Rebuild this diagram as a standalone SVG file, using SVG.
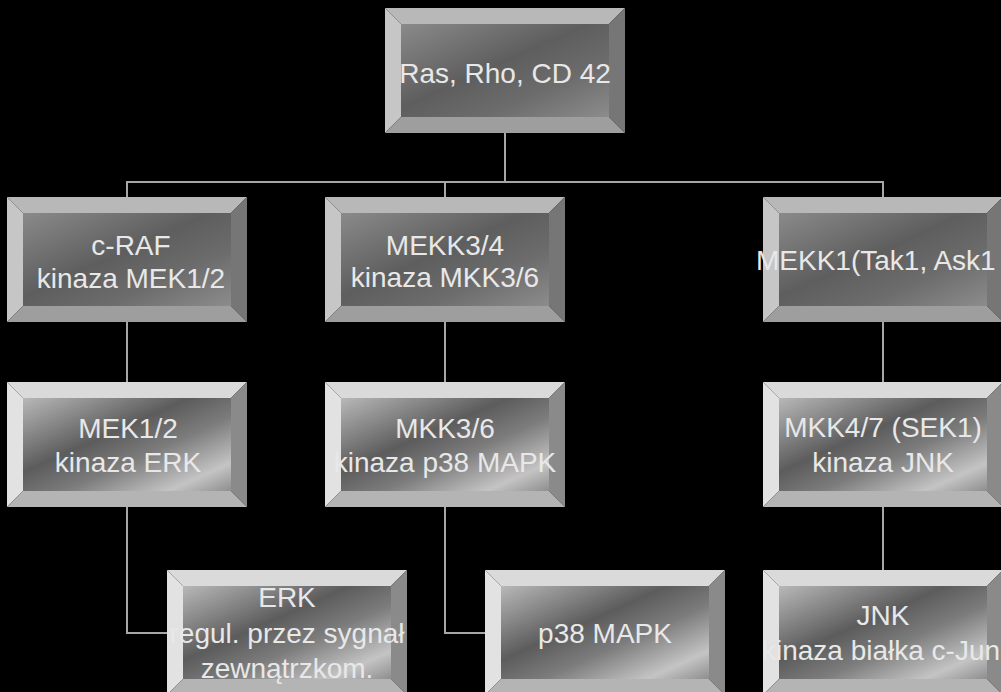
<svg xmlns="http://www.w3.org/2000/svg" xmlns:xlink="http://www.w3.org/1999/xlink" width="1001" height="692" viewBox="0 0 1001 692">
<style>
.t{font-family:"Liberation Sans",Arial,sans-serif;font-size:28px;fill:#e8e8e8;text-anchor:middle}
.c{stroke:#a6a6a6;stroke-width:2;fill:none}
</style>
<defs>
<linearGradient id="faceA" x1="0" y1="0" x2="1" y2="1">
<stop offset="0" stop-color="#8a8a8a"/>
<stop offset="0.45" stop-color="#5e5e5e"/>
<stop offset="0.7" stop-color="#6c6c6c"/>
<stop offset="1" stop-color="#8c8c8c"/>
</linearGradient>
<linearGradient id="faceB" x1="0" y1="0" x2="1" y2="1">
<stop offset="0" stop-color="#b8b8b8"/>
<stop offset="0.4" stop-color="#5c5c5c"/>
<stop offset="0.6" stop-color="#7c7c7c"/>
<stop offset="0.85" stop-color="#c4c4c4"/>
<stop offset="1" stop-color="#8e8e8e"/>
</linearGradient>
<g id="bevA">
<rect x="16" y="16" width="208" height="93" fill="url(#faceA)"/>
<polygon points="0,0 240,0 224,16 16,16" fill="#b8b8b8"/>
<polygon points="0,0 16,16 16,109 0,125" fill="#c6c6c6"/>
<polygon points="240,0 240,125 224,109 224,16" fill="#767676"/>
<polygon points="0,125 16,109 224,109 240,125" fill="#9e9e9e"/>
</g>
<g id="bevB">
<rect x="16" y="16" width="208" height="93" fill="url(#faceB)"/>
<polygon points="0,0 240,0 224,16 16,16" fill="#dadada"/>
<polygon points="0,0 16,16 16,109 0,125" fill="#e2e2e2"/>
<polygon points="240,0 240,125 224,109 224,16" fill="#8a8a8a"/>
<polygon points="0,125 16,109 224,109 240,125" fill="#b4b4b4"/>
</g>
</defs>
<rect width="1001" height="692" fill="#000"/>
<g id="connectors" class="c">
<path d="M505,133 V182"/>
<path d="M127,197 V182 H883 V197"/>
<path d="M445,182 V197"/>
<path d="M127,322 V382"/>
<path d="M445,322 V382"/>
<path d="M883,322 V382"/>
<path d="M127,507 V633 H167"/>
<path d="M445,507 V633 H485"/>
<path d="M883,507 V570"/>
</g>
<g id="ras">
<use xlink:href="#bevA" transform="translate(385,8)"/>
<text class="t" x="505" y="83">Ras, Rho, CD 42</text>
</g>
<g id="craf">
<use xlink:href="#bevA" transform="translate(7,197)"/>
<text class="t" x="131" y="255">c-RAF</text>
<text class="t" x="131" y="288">kinaza MEK1/2</text>
</g>
<g id="mekk34">
<use xlink:href="#bevA" transform="translate(325,197)"/>
<text class="t" x="445" y="255">MEKK3/4</text>
<text class="t" x="445" y="287">kinaza MKK3/6</text>
</g>
<g id="mekk1">
<use xlink:href="#bevA" transform="translate(763,197)"/>
<text class="t" x="756" y="270" style="text-anchor:start">MEKK1(Tak1, Ask1</text>
</g>
<g id="mek12">
<use xlink:href="#bevB" transform="translate(7,382)"/>
<text class="t" x="128" y="438">MEK1/2</text>
<text class="t" x="128" y="472">kinaza ERK</text>
</g>
<g id="mkk36">
<use xlink:href="#bevB" transform="translate(325,382)"/>
<text class="t" x="445" y="438">MKK3/6</text>
<text class="t" x="445" y="472">kinaza p38 MAPK</text>
</g>
<g id="mkk47">
<use xlink:href="#bevB" transform="translate(763,382)"/>
<text class="t" x="883" y="437">MKK4/7 (SEK1)</text>
<text class="t" x="883" y="472">kinaza JNK</text>
</g>
<g id="erk">
<use xlink:href="#bevB" transform="translate(167,570)"/>
<text class="t" x="287" y="607">ERK</text>
<text class="t" x="287" y="643">regul. przez sygnał</text>
<text class="t" x="287" y="678">zewnątrzkom.</text>
</g>
<g id="p38">
<use xlink:href="#bevB" transform="translate(485,570)"/>
<text class="t" x="605" y="643">p38 MAPK</text>
</g>
<g id="jnk">
<use xlink:href="#bevB" transform="translate(763,570)"/>
<text class="t" x="883" y="625">JNK</text>
<text class="t" x="881" y="660">kinaza białka c-Jun</text>
</g>
</svg>
